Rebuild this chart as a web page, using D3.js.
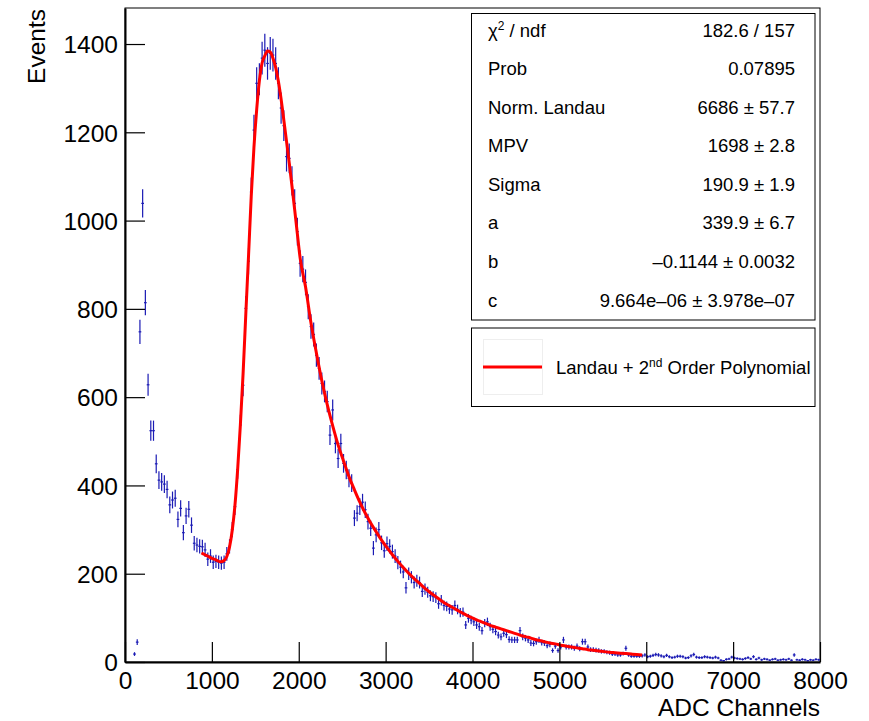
<!DOCTYPE html>
<html>
<head>
<meta charset="utf-8">
<script src="https://cdn.jsdelivr.net/npm/d3@7"></script>
<style>
  html, body { margin: 0; padding: 0; background: #fff; }
  svg { display: block; font-family: "Liberation Sans", Arial, Helvetica, sans-serif; }
</style>
</head>
<body>
<div id="chart"></div>
<script>
// histogram: 256 bins of 31.25 ADC channels from 0 to 8000
var binWidth = 31.25;
var counts = [
  0, 0, 0, 18, 45, 748, 1039, 814, 628, 524,
  524, 449, 412, 408, 403, 391, 356, 367, 371, 323,
  348, 293, 331, 346, 310, 269, 265, 262, 261, 254,
  233, 240, 226, 228, 226, 224, 226, 245, 262, 300,
  352, 436, 537, 627, 801, 908, 1065, 1205, 1311, 1320,
  1368, 1386, 1356, 1379, 1375, 1356, 1311, 1255, 1215, 1145,
  1141, 1090, 1039, 975, 903, 890, 860, 805, 760, 742,
  695, 665, 631, 613, 590, 514, 571, 495, 461, 495,
  450, 435, 416, 405, 326, 337, 352, 362, 345, 318,
  303, 258, 288, 300, 270, 252, 268, 262, 250, 240,
  225, 215, 204, 168, 200, 192, 180, 184, 180, 160,
  165, 158, 150, 148, 146, 132, 140, 128, 126, 120,
  118, 128, 119, 112, 113, 84, 99, 95, 91, 84,
  80, 71, 88, 91, 80, 74, 69, 61, 57, 65,
  62, 51, 50, 50, 50, 71, 57, 54, 50, 43,
  42, 46, 50, 44, 43, 37, 40, 26, 36, 26,
  34, 50, 34, 34, 34, 31, 36, 30, 46, 46,
  34, 28, 28, 27, 26, 24, 24, 22, 21, 18,
  18, 16, 16, 19, 31, 16, 13, 13, 13, 13,
  14, 16, 12, 13, 15, 17, 16, 14, 12, 15,
  12, 10, 11, 13, 13, 12, 9, 10, 14, 17,
  11, 10, 10, 12, 11, 10, 9, 11, 9, 4,
  3, 6, 7, 11, 9, 8, 7, 6, 8, 10,
  7, 12, 6, 9, 5, 7, 6, 4, 6, 7,
  4, 5, 6, 5, 7, 4, 16, 5, 4, 6,
  5, 3, 5, 4, 6, 5
];

// fitted Landau + pol2 curve
var fitX = [880, 920, 960, 1000, 1050, 1100, 1141, 1172, 1203, 1234, 1266, 1297, 1328, 1359, 1391, 1422, 1453, 1484, 1516,
  1547, 1578, 1609, 1641, 1672, 1703, 1734, 1766, 1797, 1828, 1859, 1891, 1922, 1953, 1984, 2016,
  2078, 2141, 2203, 2266, 2328, 2391, 2453, 2516, 2578, 2641, 2703, 2766, 2828, 2891, 2953, 3016, 3078, 3141, 3203, 3266,
  3328, 3391, 3453, 3516, 3578, 3641, 3703, 3766, 3828, 3891, 3953, 4016, 4078, 4141, 4203, 4266, 4328, 4391, 4453, 4516,
  4578, 4641, 4703, 4766, 4828, 4891, 4953, 5016, 5078, 5141, 5203, 5266, 5328, 5391, 5453, 5516, 5578, 5641, 5703, 5766,
  5828, 5891, 5953];
var fitY = [247, 243, 239, 235, 231, 227, 230, 239, 260, 298, 356, 437, 537, 652, 790, 920, 1055, 1165, 1252,
  1317, 1357, 1373, 1384, 1382, 1368, 1347, 1315, 1275, 1228, 1180, 1130, 1078, 1025, 970, 915,
  850, 768, 700, 637, 583, 535, 492, 455, 420, 390, 362, 337, 315, 295, 276, 259, 243, 228, 214, 201,
  189, 178, 167, 157, 148, 139, 131, 124, 117, 110, 104, 98, 93, 88, 83, 79, 75, 71, 67, 63,
  59, 56, 52, 49, 46, 43, 41, 38, 36, 34, 32, 30, 28, 26.5, 25, 23.5, 22, 21, 20, 19,
  18, 17, 16];

var xMajor = [0, 1000, 2000, 3000, 4000, 5000, 6000, 7000, 8000];
var yMajor = [0, 200, 400, 600, 800, 1000, 1200, 1400];

var statLabels = ['χ2 / ndf', 'Prob', 'Norm. Landau', 'MPV', 'Sigma', 'a', 'b', 'c'];
var statValues = ['182.6 / 157', '0.07895', '6686 ± 57.7', '1698 ± 2.8', '190.9 ± 1.9', '339.9 ± 6.7',
  '–0.1144 ± 0.0032', '9.664e–06 ± 3.978e–07'];

(function () {
  'use strict';
  var W = 869, H = 721;
  var left = 125, right = 820, top = 8, bottom = 662;
  var blue = '#1a1ab4';

  var svg = d3.select('#chart').append('svg').attr('width', W).attr('height', H);
  svg.append('rect').attr('width', W).attr('height', H).attr('fill', '#fff');

  var x = d3.scaleLinear().domain([0, 8000]).range([left, right]);
  var y = d3.scaleLinear().domain([0, 1481.6]).range([bottom, top]);

  svg.append('clipPath').attr('id', 'plot-clip').append('rect')
    .attr('x', left).attr('y', top).attr('width', right - left).attr('height', bottom - top);

  // frame
  svg.append('rect').attr('x', left).attr('y', top).attr('width', right - left).attr('height', bottom - top)
    .attr('fill', 'none').attr('stroke', '#000').attr('stroke-width', 1);

  // data points with sqrt(N) errors
  var pts = [];
  counts.forEach(function (n, i) { if (n > 0) pts.push({ lo: i * binWidth, hi: (i + 1) * binWidth, n: n }); });
  var gData = svg.append('g').attr('clip-path', 'url(#plot-clip)')
    .attr('stroke', blue).attr('stroke-width', 1.2);
  gData.selectAll('line.h').data(pts).enter().append('line').attr('class', 'h')
    .attr('x1', function (d) { return x(d.lo); }).attr('x2', function (d) { return x(d.hi); })
    .attr('y1', function (d) { return y(d.n); }).attr('y2', function (d) { return y(d.n); });
  gData.selectAll('line.v').data(pts).enter().append('line').attr('class', 'v')
    .attr('x1', function (d) { return x((d.lo + d.hi) / 2); }).attr('x2', function (d) { return x((d.lo + d.hi) / 2); })
    .attr('y1', function (d) { return y(d.n - Math.sqrt(d.n)); }).attr('y2', function (d) { return y(d.n + Math.sqrt(d.n)); });

  // fit curve
  var line = d3.line().x(function (d) { return x(d[0]); }).y(function (d) { return y(d[1]); }).curve(d3.curveMonotoneX);
  svg.append('path').datum(fitX.map(function (v, i) { return [v, fitY[i]]; }))
    .attr('clip-path', 'url(#plot-clip)')
    .attr('d', line).attr('fill', 'none').attr('stroke', '#ff0000').attr('stroke-width', 3)
    .attr('stroke-linejoin', 'round');

  // axes (ticks point into the frame)
  var yMinor = d3.range(0, 1451, 50);
  var xMinor = d3.range(0, 8001, 200);
  var gy = svg.append('g').attr('transform', 'translate(' + left + ',0)');
  gy.call(d3.axisLeft(y).tickValues(yMinor).tickSize(-10).tickSizeOuter(0).tickFormat(''));
  gy.call(d3.axisLeft(y).tickValues(yMajor).tickSize(-20).tickSizeOuter(0).tickPadding(7).tickFormat(d3.format('d')));
  var gx = svg.append('g').attr('transform', 'translate(0,' + bottom + ')');
  gx.call(d3.axisBottom(x).tickValues(xMinor).tickSize(-10).tickSizeOuter(0).tickFormat(''));
  gx.call(d3.axisBottom(x).tickValues(xMajor).tickSize(-20).tickSizeOuter(0).tickPadding(7).tickFormat(d3.format('d')));
  svg.selectAll('.domain').attr('stroke', '#000').attr('stroke-width', 2);
  svg.selectAll('.tick line').attr('stroke', '#000').attr('stroke-width', 1.2);
  svg.selectAll('.tick text').attr('font-size', 24.5).attr('font-family', '"Liberation Sans", Arial, sans-serif').attr('fill', '#000');
  gy.selectAll('.tick text').attr('dy', '0.36em');
  gx.selectAll('.tick text').attr('dy', '0.8em');

  // axis titles
  svg.append('text').attr('x', right).attr('y', 716).attr('text-anchor', 'end')
    .attr('font-size', 24.5).text('ADC Channels');
  svg.append('text').attr('transform', 'translate(45,9) rotate(-90)').attr('text-anchor', 'end')
    .attr('font-size', 24.5).text('Events');

  // stats box
  var sx0 = 471.5, sx1 = 815, sy0 = 13.5, sy1 = 320;
  svg.append('rect').attr('x', sx0).attr('y', sy0).attr('width', sx1 - sx0).attr('height', sy1 - sy0)
    .attr('fill', '#fff').attr('stroke', '#000').attr('stroke-width', 1);
  var rowY = d3.scaleLinear().domain([0, statLabels.length - 1]).range([30, 300]);
  var gs = svg.append('g').attr('font-size', 18.5).attr('fill', '#000');
  statLabels.forEach(function (lab, i) {
    var t = gs.append('text').attr('x', 488).attr('y', rowY(i) + 6.5);
    if (lab.indexOf('χ2') === 0) {
      t.append('tspan').text('χ');
      t.append('tspan').attr('font-size', 12).attr('dy', -7).text('2');
      t.append('tspan').attr('dy', 7).text(' / ndf');
    } else {
      t.text(lab);
    }
    gs.append('text').attr('x', 795).attr('y', rowY(i) + 6.5).attr('text-anchor', 'end').text(statValues[i]);
  });

  // legend box
  var ly0 = 328, ly1 = 406.5;
  svg.append('rect').attr('x', sx0).attr('y', ly0).attr('width', sx1 - sx0).attr('height', ly1 - ly0)
    .attr('fill', '#fff').attr('stroke', '#000').attr('stroke-width', 1);
  svg.append('rect').attr('x', 483.5).attr('y', 339.5).attr('width', 59).attr('height', 55)
    .attr('fill', 'none').attr('stroke', '#eeeeee').attr('stroke-width', 1);
  svg.append('line').attr('x1', 483).attr('x2', 542).attr('y1', 367).attr('y2', 367)
    .attr('stroke', '#ff0000').attr('stroke-width', 3);
  var lt = svg.append('text').attr('x', 556).attr('y', 373.5).attr('font-size', 18.5);
  lt.append('tspan').text('Landau + 2');
  lt.append('tspan').attr('font-size', 12).attr('dy', -7).text('nd');
  lt.append('tspan').attr('dy', 7).text(' Order Polynomial');
})();
</script>
</body>
</html>
